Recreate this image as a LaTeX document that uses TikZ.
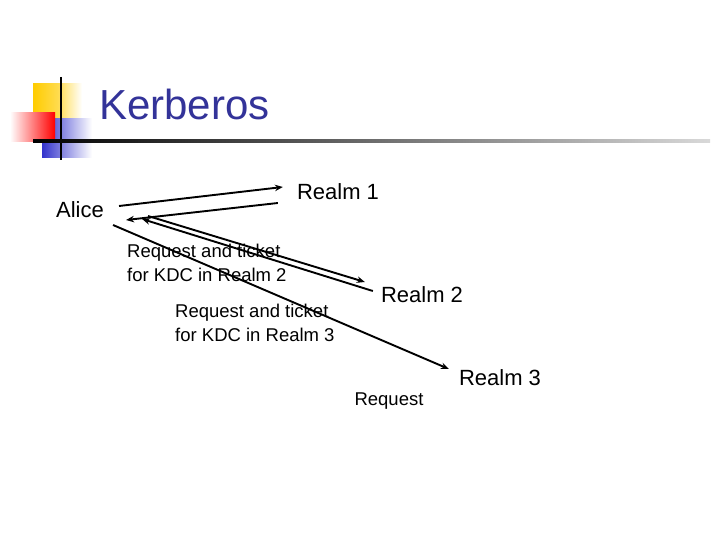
\documentclass[tikz,border=0pt]{standalone}
\usepackage{fontspec}
\setmainfont{Liberation Sans}
\usetikzlibrary{positioning, arrows.meta}
\definecolor{titleblue}{RGB}{51,51,153}
\definecolor{logoyellow}{RGB}{255,204,0}
\definecolor{logored}{RGB}{255,0,0}
\definecolor{logoblue}{RGB}{51,51,204}
\tikzset{
  realm/.style={inner sep=0pt, font=\fontsize{22}{26}\selectfont},
  msg/.style={inner sep=0pt, align=left, font=\fontsize{18.5}{24}\selectfont},
  arrow/.style={line width=1.9pt,-{Stealth[length=8pt,width=6.5pt]}}
}

\begin{document}
\begin{tikzpicture}[x=1pt, y=-1pt]
        \useasboundingbox[fill=white] (0,0) rectangle (720,540);

        % logo
        \shade[left color=logoyellow, right color=white, middle color=logoyellow!70] (33,84) rectangle (82,119);
        \shade[left color=logoblue, right color=white] (42,119) rectangle (92,158);
        \shade[left color=white, right color=logored] (10,113) rectangle (55,142);
        \draw[line width=2pt] (61,77) -- (61,160);
        \shade[left color=black, right color=black!15] (33,140) rectangle (710,142.5);

        \node (title) [anchor=west, text=titleblue, inner sep=0pt, font=\fontsize{42}{48}\selectfont] at (99,104) {Kerberos};

        \node (alice) [realm] at (80,210) {Alice};
        \node (realm1) [realm] at (338,192) {Realm 1};
        \node (realm2) [realm] at (422,295) {Realm 2};
        \node (realm3) [realm] at (500,378) {Realm 3};

        \node (msg2) [msg, anchor=west] at (127,263) {Request and ticket\\for KDC in Realm 2};
        \node (msg3) [msg, anchor=west] at (175,323) {Request and ticket\\for KDC in Realm 3};
        \node (req) [msg] at (389,401) {Request};

        % Alice <-> Realm 1
        \draw [arrow] ([xshift=15pt,yshift=4pt]alice.east) -- ([xshift=-14pt,yshift=5pt]realm1.west);
        \draw [arrow] ([xshift=-19pt,yshift=-11pt]realm1.west) -- ([xshift=22pt,yshift=-10pt]alice.east);

        % Alice <-> Realm 2
        \draw [arrow] ([xshift=44pt,yshift=-6pt]alice.east) -- ([xshift=-16pt,yshift=13pt]realm2.west);
        \draw [arrow] ([xshift=-8pt,yshift=4pt]realm2.west) -- ([xshift=38pt,yshift=-9pt]alice.east);

        % Alice -> Realm 3
        \draw [arrow] ([xshift=9pt,yshift=-15pt]alice.east) -- ([xshift=-10pt,yshift=9pt]realm3.west);
    \end{tikzpicture}
\end{document}
